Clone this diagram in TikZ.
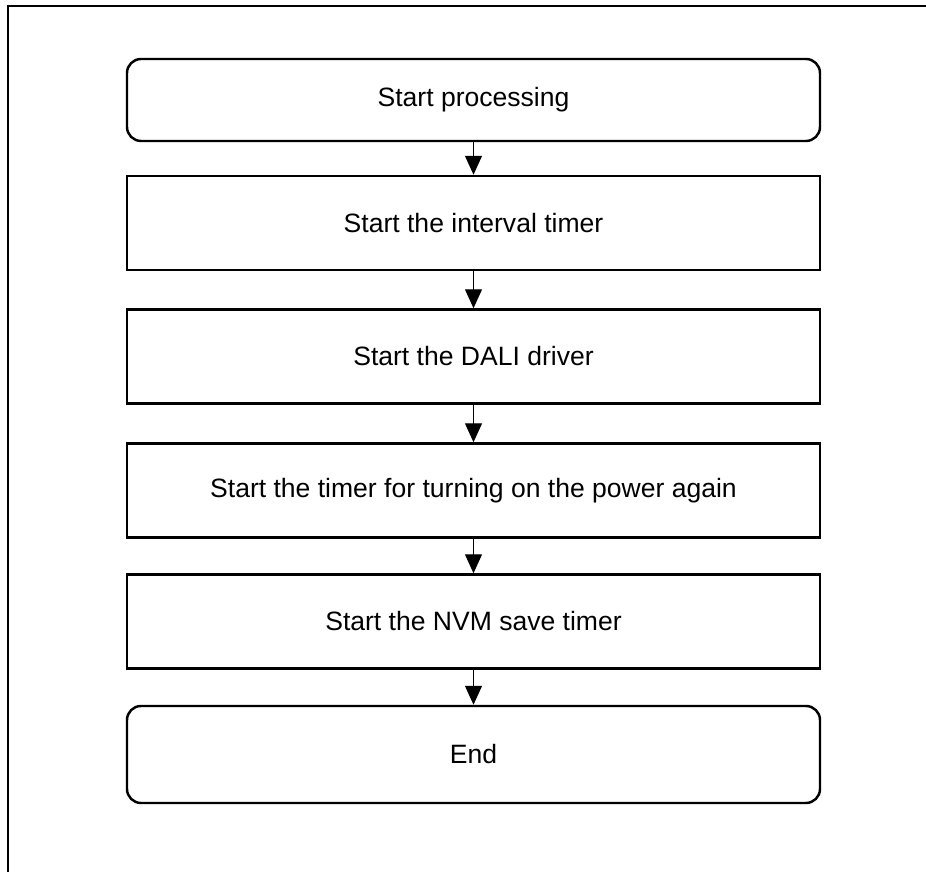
\documentclass[tikz,border=0pt]{standalone}
\usepackage{fontspec}
\setmainfont{Liberation Sans}
\usetikzlibrary{shapes,arrows.meta,positioning}

\tikzset{
  stepbox/.style={draw, line width=1.4pt, minimum width=13.86cm, minimum height=1.88cm, inner sep=0pt, font=\fontsize{15.1}{17}\selectfont},
  termbox/.style={stepbox, rounded corners=0.28cm},
  flow/.style={-{Triangle[width=0.34cm,length=0.38cm]}, line width=0.7pt}
}

\begin{document}
\begin{tikzpicture}
            \useasboundingbox (0,0) rectangle (18.52,17.44);
            \draw [line width=1.4pt] (0.16,-1)--(0.16,17.32)--(19,17.32);
            \node [termbox, minimum height=1.64cm] (start) at (9.47,15.44) {Start processing};
            \node [stepbox] (interval) at (9.47,12.98) {Start the interval timer};
            \node [stepbox] (dali) at (9.47,10.31) {Start the DALI driver};
            \node [stepbox] (power) at (9.47,7.63) {Start the timer for turning on the power again};
            \node [stepbox] (nvm) at (9.47,5.01) {Start the NVM save timer};
            \node [termbox, minimum height=1.94cm] (end) at (9.47,2.35) {End};
            \draw [flow] (start)--(interval);
            \draw [flow] (interval)--(dali);
            \draw [flow] (dali)--(power);
            \draw [flow] (power)--(nvm);
            \draw [flow] (nvm)--(end);
        \end{tikzpicture}
\end{document}
